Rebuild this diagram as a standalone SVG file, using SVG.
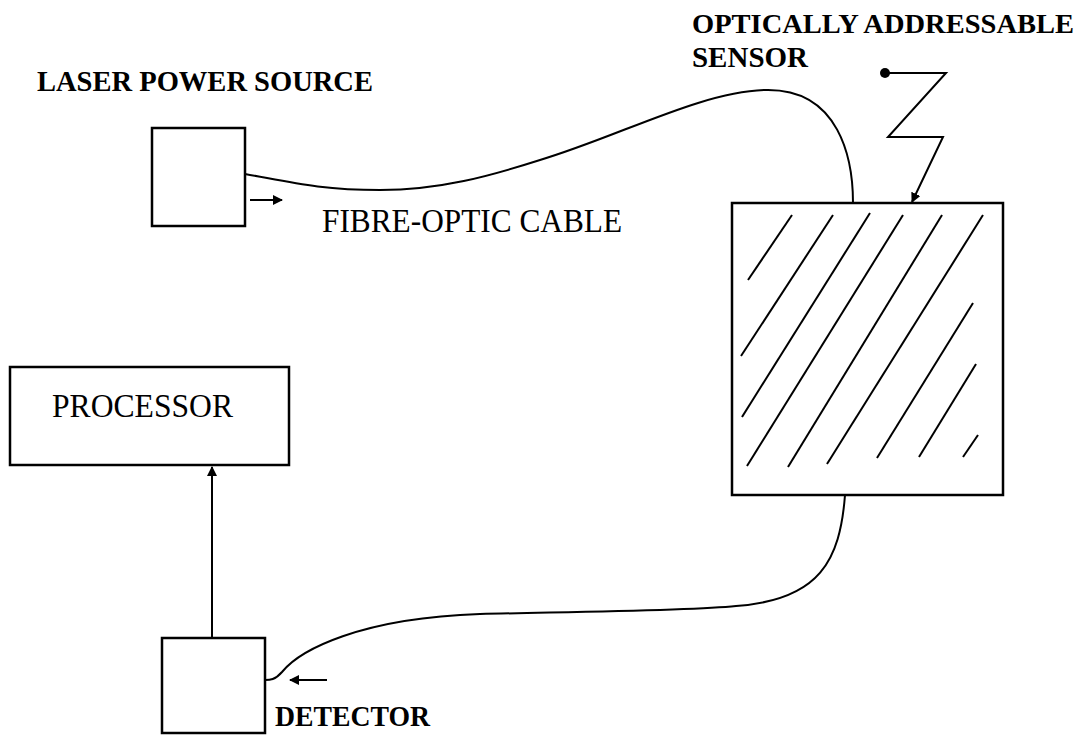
<svg xmlns="http://www.w3.org/2000/svg" width="1083" height="735" viewBox="0 0 1083 735">
<style>
.box{fill:#fff;stroke:#000;stroke-width:2.5}
.ln{fill:none;stroke:#000;stroke-width:2}
.hatch{fill:none;stroke:#000;stroke-width:2}
.bold{font-family:"Liberation Serif",serif;font-weight:bold;font-size:30px;fill:#000}
.reg{font-family:"Liberation Serif",serif;font-size:34px;fill:#000}
</style>
<defs>
<marker id="ah" viewBox="0 0 10 10" refX="9" refY="5" markerWidth="5" markerHeight="5" orient="auto" markerUnits="strokeWidth">
<path d="M0,0 L10,5 L0,10 Z" fill="#000"/>
</marker>
</defs>
<rect width="1083" height="735" fill="#fff"/>
<g id="laser">
<rect class="box" x="152" y="128" width="93" height="98"/>
<text class="bold" x="37" y="91" textLength="336" lengthAdjust="spacingAndGlyphs">LASER POWER SOURCE</text>
</g>
<g id="sensor">
<rect class="box" x="732" y="203" width="271" height="292"/>
<g class="hatch">
<line x1="748" y1="280" x2="792" y2="215"/>
<line x1="741" y1="356" x2="833" y2="215"/>
<line x1="742" y1="417" x2="870" y2="213"/>
<line x1="747" y1="466" x2="903" y2="215"/>
<line x1="788" y1="467" x2="942" y2="215"/>
<line x1="827" y1="464" x2="983" y2="215"/>
<line x1="877" y1="458" x2="973" y2="303"/>
<line x1="919" y1="457" x2="976" y2="364"/>
<line x1="963" y1="457" x2="978" y2="435"/>
</g>
<text class="bold" x="692" y="33" style="font-size:28.3px" textLength="382" lengthAdjust="spacingAndGlyphs">OPTICALLY ADDRESSABLE</text>
<text class="bold" x="692" y="67" textLength="116" lengthAdjust="spacingAndGlyphs">SENSOR</text>
</g>
<g id="processor">
<rect class="box" x="10" y="367" width="279" height="98"/>
<text class="reg" x="52" y="417" textLength="181" lengthAdjust="spacingAndGlyphs">PROCESSOR</text>
</g>
<g id="detector">
<rect class="box" x="162" y="638" width="103" height="95"/>
<text class="bold" x="275" y="726" textLength="155" lengthAdjust="spacingAndGlyphs">DETECTOR</text>
</g>
<g id="connectors">
<path class="ln" d="M245,174 C290,182 320,190 380,190 C440,190 490,176 540,160 C620,136 700,92 765,90 C840,88 853,160 853,203"/>
<text class="reg" x="322" y="232" textLength="300" lengthAdjust="spacingAndGlyphs">FIBRE-OPTIC CABLE</text>
<path class="ln" d="M845,495 C840,560 820,600 736,606 C690,611 560,612 480,614 C360,618 300,650 282,672 C275,680 270,680 265,680"/>
<line class="ln" x1="250" y1="200" x2="282" y2="200" marker-end="url(#ah)"/>
<line class="ln" x1="327" y1="680" x2="290" y2="680" marker-end="url(#ah)"/>
<line class="ln" x1="212" y1="638" x2="212" y2="467" marker-end="url(#ah)"/>
<circle cx="885" cy="73" r="5" fill="#000"/>
<polyline class="ln" points="885,73 946,73 888,137 943,137 912,202" marker-end="url(#ah)"/>
</g>
</svg>
